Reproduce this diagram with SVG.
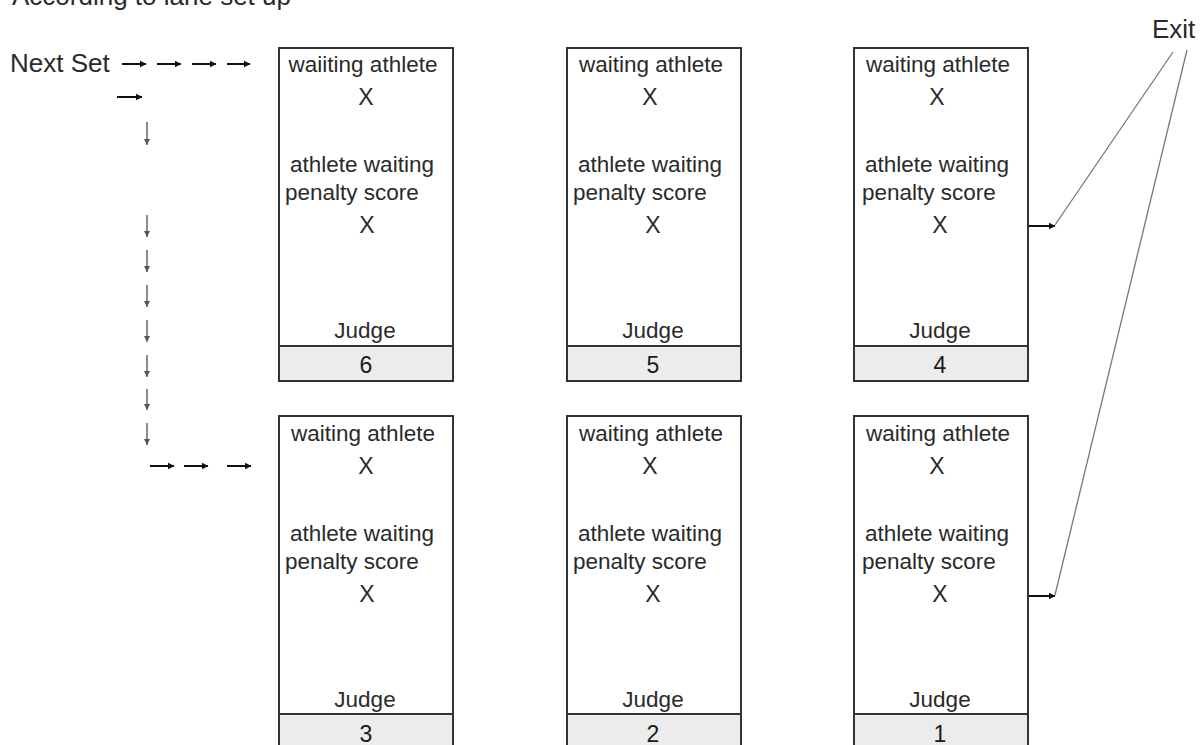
<svg xmlns="http://www.w3.org/2000/svg" width="1200" height="745" viewBox="0 0 1200 745">
<defs>
<style>
text{font-family:"Liberation Sans",Arial,sans-serif;fill:#2a2a2a}
.hd{font-size:26px}
.t{font-size:22.5px;text-anchor:middle}
.ts{font-size:22.5px;text-anchor:start}
.x{font-size:23px;text-anchor:middle}
.n{font-size:23px;text-anchor:middle;fill:#1a1a1a}
.box{fill:#fff;stroke:#333;stroke-width:2}
.foot{fill:#ececec;stroke:#333;stroke-width:2}
.ra{stroke:#111;stroke-width:2;fill:none}
.da{stroke:#666;stroke-width:1.5;fill:none}
.ex{stroke:#777;stroke-width:1.3;fill:none}
</style>
<marker id="hr" markerWidth="8" markerHeight="8" refX="6" refY="4" orient="auto" markerUnits="userSpaceOnUse">
<path d="M0,0.8 L6.5,4 L0,7.2 Z" fill="#111"/>
</marker>
<marker id="hd" markerWidth="8" markerHeight="8" refX="6" refY="4" orient="auto" markerUnits="userSpaceOnUse">
<path d="M0,1 L6,4 L0,7 Z" fill="#555"/>
</marker>
</defs>
<rect width="1200" height="745" fill="#fff"/>
<text class="hd" x="12" y="5">According to lane set up</text>
<text class="hd" x="10" y="72">Next Set</text>
<text class="hd" x="1152" y="38">Exit</text>

<g id="lane6">
<rect class="box" x="279" y="48" width="174" height="298"/>
<rect class="foot" x="279" y="346" width="174" height="35"/>
<text class="t" x="363" y="72">waiiting athlete</text>
<text class="x" x="366" y="105">X</text>
<text class="t" x="362" y="172">athlete waiting</text>
<text class="ts" x="285" y="200">penalty score</text>
<text class="x" x="367" y="233">X</text>
<text class="t" x="365" y="338">Judge</text>
<text class="n" x="366" y="373">6</text>
</g>
<g id="lane5">
<rect class="box" x="567" y="48" width="174" height="298"/>
<rect class="foot" x="567" y="346" width="174" height="35"/>
<text class="t" x="651" y="72">waiting athlete</text>
<text class="x" x="650" y="105">X</text>
<text class="t" x="650" y="172">athlete waiting</text>
<text class="ts" x="573" y="200">penalty score</text>
<text class="x" x="653" y="233">X</text>
<text class="t" x="653" y="338">Judge</text>
<text class="n" x="653" y="373">5</text>
</g>
<g id="lane4">
<rect class="box" x="854" y="48" width="174" height="298"/>
<rect class="foot" x="854" y="346" width="174" height="35"/>
<text class="t" x="938" y="72">waiting athlete</text>
<text class="x" x="937" y="105">X</text>
<text class="t" x="937" y="172">athlete waiting</text>
<text class="ts" x="862" y="200">penalty score</text>
<text class="x" x="940" y="233">X</text>
<text class="t" x="940" y="338">Judge</text>
<text class="n" x="940" y="373">4</text>
</g>
<g id="lane3">
<rect class="box" x="279" y="416" width="174" height="298"/>
<rect class="foot" x="279" y="714" width="174" height="35"/>
<text class="t" x="363" y="441">waiting athlete</text>
<text class="x" x="366" y="474">X</text>
<text class="t" x="362" y="541">athlete waiting</text>
<text class="ts" x="285" y="569">penalty score</text>
<text class="x" x="367" y="602">X</text>
<text class="t" x="365" y="707">Judge</text>
<text class="n" x="366" y="742">3</text>
</g>
<g id="lane2">
<rect class="box" x="567" y="416" width="174" height="298"/>
<rect class="foot" x="567" y="714" width="174" height="35"/>
<text class="t" x="651" y="441">waiting athlete</text>
<text class="x" x="650" y="474">X</text>
<text class="t" x="650" y="541">athlete waiting</text>
<text class="ts" x="573" y="569">penalty score</text>
<text class="x" x="653" y="602">X</text>
<text class="t" x="653" y="707">Judge</text>
<text class="n" x="653" y="742">2</text>
</g>
<g id="lane1">
<rect class="box" x="854" y="416" width="174" height="298"/>
<rect class="foot" x="854" y="714" width="174" height="35"/>
<text class="t" x="938" y="441">waiting athlete</text>
<text class="x" x="937" y="474">X</text>
<text class="t" x="937" y="541">athlete waiting</text>
<text class="ts" x="862" y="569">penalty score</text>
<text class="x" x="940" y="602">X</text>
<text class="t" x="940" y="707">Judge</text>
<text class="n" x="940" y="742">1</text>
</g>

<g id="connectors">
<path class="ra" marker-end="url(#hr)" d="M122,64 H146"/>
<path class="ra" marker-end="url(#hr)" d="M157,64 H181"/>
<path class="ra" marker-end="url(#hr)" d="M192,64 H216"/>
<path class="ra" marker-end="url(#hr)" d="M227,64 H250"/>
<path class="ra" marker-end="url(#hr)" d="M117,97 H142"/>
<path class="da" marker-end="url(#hd)" d="M147,122 V145"/>
<path class="da" marker-end="url(#hd)" d="M147,215 V237"/>
<path class="da" marker-end="url(#hd)" d="M147,250 V272"/>
<path class="da" marker-end="url(#hd)" d="M147,285 V307"/>
<path class="da" marker-end="url(#hd)" d="M147,320 V342"/>
<path class="da" marker-end="url(#hd)" d="M147,355 V377"/>
<path class="da" marker-end="url(#hd)" d="M147,389 V410"/>
<path class="da" marker-end="url(#hd)" d="M147,423 V445"/>
<path class="ra" marker-end="url(#hr)" d="M150,466 H174"/>
<path class="ra" marker-end="url(#hr)" d="M184,466 H208"/>
<path class="ra" marker-end="url(#hr)" d="M227,466 H251"/>
<path class="ra" marker-end="url(#hr)" d="M1029,226 H1055"/>
<path class="ra" marker-end="url(#hr)" d="M1029,596 H1055"/>
<path class="ex" d="M1173,52 L1055,225"/>
<path class="ex" d="M1187,50 L1055,595"/>
</g>
</svg>
